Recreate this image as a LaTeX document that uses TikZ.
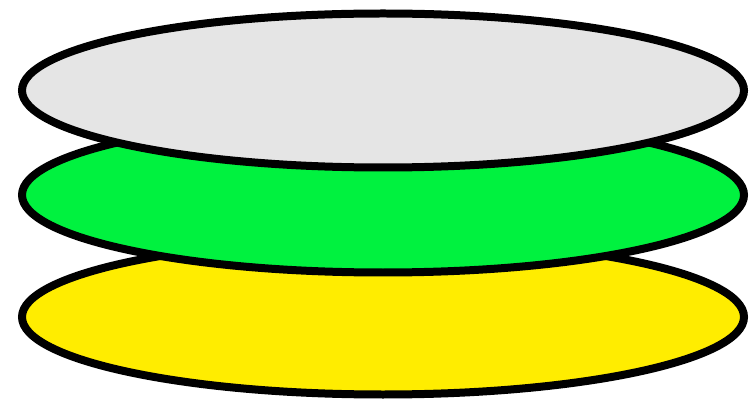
\documentclass[tikz,border=0pt]{standalone}
\usepackage{tikz}

\definecolor{discgray}{HTML}{E5E5E5}
\definecolor{discgreen}{HTML}{00F23F}
\definecolor{discyellow}{HTML}{FFED00}

\begin{document}
\begin{tikzpicture}[x=0.02cm, y=0.02cm,
  disc/.style={draw=black, line width=0.16cm}]

  \useasboundingbox (0,0) rectangle (750,399);

  % stacked discs, bottom one first
  \draw [disc, fill=discyellow] (383,82) ellipse [x radius=361, y radius=77.5];
  \draw [disc, fill=discgreen] (383,204) ellipse [x radius=361, y radius=77.5];
  \draw [disc, fill=discgray] (383,308.5) ellipse [x radius=361, y radius=77];
\end{tikzpicture}
\end{document}
